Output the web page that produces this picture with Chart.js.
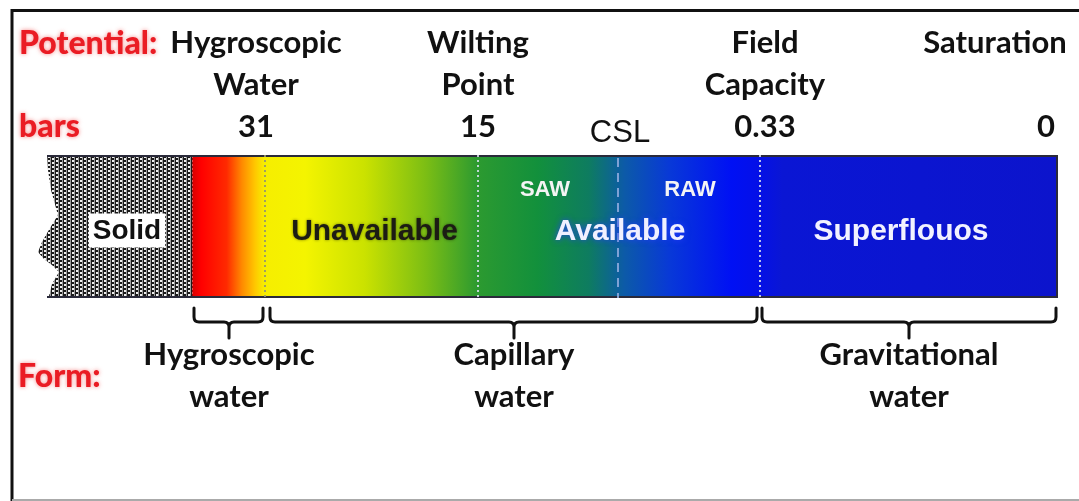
<!DOCTYPE html>
<html>
<head>
<meta charset="utf-8">
<script src="https://cdn.jsdelivr.net/npm/chart.js@4.4.0/dist/chart.umd.min.js"></script>
<style>
html, body { margin: 0; padding: 0; background: #fff; }
#wrap { position: relative; width: 1079px; height: 501px; }
</style>
</head>
<body>
<div id="wrap"><canvas id="myChart"></canvas></div>
<script>
// segments of the soil-water bar, widths (relative units)
const segments = ['Solid', 'Hygroscopic', 'Unavailable', 'SAW', 'RAW', 'Superflouos'];
const segmentWidths = [154, 73, 213, 140, 142, 298];

// potential scale above the bar
const potentialNames = [['Hygroscopic', 'Water'], ['Wilting', 'Point'], ['Field', 'Capacity'], ['Saturation']];
const potentialBars = ['31', '15', '0.33', '0'];

// forms of water below the bar (first..last segment index covered)
const formNames = [['Hygroscopic', 'water'], ['Capillary', 'water'], ['Gravitational', 'water']];
const formFrom = [1, 2, 5];
const formTo = [1, 4, 5];

const total = segmentWidths.reduce((a, b) => a + b, 0);
const boundaries = [0];
segmentWidths.forEach(w => boundaries.push(boundaries[boundaries.length - 1] + w));

const LABEL_FONT = 'Lato, "Open Sans", sans-serif';
const BAR_FONT = '"Liberation Sans", Arial, sans-serif';

let gradCache = null;
function barGradient(chart) {
    const area = chart.chartArea;
    if (!area) return '#0010e0';
    if (gradCache && gradCache.w === area.width) return gradCache.g;
    const g = chart.ctx.createLinearGradient(area.left, 0, area.right, 0);
    const stops = [
        [0.150, '#d40000'], [0.160, '#ff0000'], [0.185, '#ff2a00'], [0.200, '#ff8a00'],
        [0.213, '#ffc800'], [0.222, '#f6ee00'], [0.262, '#f4f400'], [0.320, '#cbe200'],
        [0.380, '#7cbe14'], [0.431, '#2c9a30'], [0.490, '#12903c'], [0.540, '#0e7c60'],
        [0.575, '#0c5aa8'], [0.620, '#0838d8'], [0.680, '#0010f4'], [0.705, '#0410e8'],
        [0.730, '#0a16d4'], [1.000, '#0c14cc']
    ];
    stops.forEach(s => g.addColorStop(s[0], s[1]));
    gradCache = { w: area.width, g: g };
    return g;
}

let patternCache = null;
function solidPattern(chart) {
    if (patternCache) return patternCache;
    const c = document.createElement('canvas');
    c.width = 8; c.height = 4;
    const x = c.getContext('2d');
    x.fillStyle = '#1a1a1a';
    x.fillRect(0, 0, 8, 4);
    x.fillStyle = '#f0f0f0';
    x.fillRect(0, 0, 2, 2);
    x.fillRect(4, 2, 2, 2);
    x.fillStyle = '#9a9a9a';
    x.fillRect(2, 0, 1, 4);
    x.fillRect(6, 0, 1, 4);
    patternCache = chart.ctx.createPattern(c, 'repeat');
    return patternCache;
}

function brace(ctx, x1, x2, xm, y) {
    ctx.beginPath();
    ctx.moveTo(x1, y - 14);
    ctx.lineTo(x1, y - 5);
    ctx.quadraticCurveTo(x1, y, x1 + 5, y);
    ctx.lineTo(xm - 5, y);
    ctx.quadraticCurveTo(xm, y, xm, y + 5);
    ctx.lineTo(xm, y + 16);
    ctx.moveTo(xm, y + 5);
    ctx.quadraticCurveTo(xm, y, xm + 5, y);
    ctx.lineTo(x2 - 5, y);
    ctx.quadraticCurveTo(x2, y, x2, y - 5);
    ctx.lineTo(x2, y - 14);
    ctx.stroke();
}

function text(ctx, str, x, y, font, color, align) {
    ctx.font = font;
    ctx.fillStyle = color;
    ctx.textAlign = align || 'center';
    ctx.textBaseline = 'middle';
    ctx.fillText(str, x, y);
}

const diagramPlugin = {
    id: 'diagram',
    beforeDraw(chart) {
        const ctx = chart.ctx;
        ctx.save();
        ctx.fillStyle = '#fff';
        ctx.fillRect(0, 0, chart.width, chart.height);
        // frame
        ctx.strokeStyle = '#111';
        ctx.lineWidth = 3;
        ctx.beginPath();
        ctx.moveTo(12, 501);
        ctx.lineTo(12, 10.5);
        ctx.lineTo(1079, 10.5);
        ctx.stroke();
        ctx.strokeStyle = '#aaa';
        ctx.lineWidth = 2;
        ctx.beginPath();
        ctx.moveTo(12, 500);
        ctx.lineTo(1079, 500);
        ctx.stroke();
        ctx.restore();
    },
    afterDatasetsDraw(chart) {
        const ctx = chart.ctx;
        const area = chart.chartArea;
        const xs = chart.scales.x;
        const bx = i => xs.getPixelForValue(boundaries[i]);
        ctx.save();

        // jagged broken edge of the solid part
        ctx.fillStyle = '#fff';
        ctx.beginPath();
        ctx.moveTo(area.left - 2, area.top - 2);
        [[47, 153], [48, 170], [51, 190], [56, 208], [58, 215], [50, 228], [42, 242], [38, 252],
         [44, 259], [52, 265], [59, 272], [52, 284], [48, 300]].forEach(p => ctx.lineTo(p[0], p[1]));
        ctx.lineTo(area.left - 2, area.bottom + 2);
        ctx.closePath();
        ctx.fill();

        // dark rim of the bar
        ctx.strokeStyle = '#2a2a3a';
        ctx.lineWidth = 2;
        ctx.beginPath();
        ctx.moveTo(47, area.top + 1);
        ctx.lineTo(area.right - 1, area.top + 1);
        ctx.lineTo(area.right - 1, area.bottom - 1);
        ctx.lineTo(47, area.bottom - 1);
        ctx.stroke();

        // dividers
        [2, 3, 5].forEach(i => {
            ctx.strokeStyle = i === 2 ? 'rgba(150,150,110,0.9)' : 'rgba(220,225,240,0.85)';
            ctx.lineWidth = 2;
            ctx.setLineDash([2, 3]);
            ctx.beginPath();
            ctx.moveTo(bx(i), area.top);
            ctx.lineTo(bx(i), area.bottom);
            ctx.stroke();
        });
        ctx.strokeStyle = 'rgba(140,170,220,0.9)';
        ctx.lineWidth = 2;
        ctx.setLineDash([9, 6]);
        ctx.beginPath();
        ctx.moveTo(bx(4), area.top + 3);
        ctx.lineTo(bx(4), area.bottom);
        ctx.stroke();
        ctx.setLineDash([]);

        // labels inside the bar
        const midY = (area.top + area.bottom) / 2 + 5;
        ctx.font = 'bold 28px ' + BAR_FONT;
        const sw = ctx.measureText(segments[0]).width;
        const sx = (bx(0) + bx(1)) / 2 + 12;
        ctx.fillStyle = '#fff';
        ctx.fillRect(sx - sw / 2 - 4, midY - 18, sw + 8, 34);
        text(ctx, segments[0], sx, midY, 'bold 28px ' + BAR_FONT, '#111');

        ctx.shadowColor = 'rgba(0,0,0,0.5)';
        ctx.shadowBlur = 3;
        text(ctx, 'Unavailable', (bx(2) + bx(3)) / 2 + 3, midY, 'bold 30px ' + BAR_FONT, '#1c1c14');
        ctx.shadowColor = 'rgba(40,60,255,0.9)';
        ctx.shadowBlur = 6;
        text(ctx, 'Available', bx(4) + 2, midY, 'bold 30px ' + BAR_FONT, '#f0f0ff');
        ctx.shadowColor = 'rgba(0,0,0,0)';
        ctx.shadowBlur = 0;
        text(ctx, segments[3], (bx(3) + bx(4)) / 2 - 3, area.top + 35, 'bold 22px ' + BAR_FONT, '#f4f4f4');
        text(ctx, segments[4], (bx(4) + bx(5)) / 2 + 1, area.top + 35, 'bold 22px ' + BAR_FONT, '#f4f4f4');
        text(ctx, segments[5], (bx(5) + bx(6)) / 2 - 8, midY, 'bold 30px ' + BAR_FONT, '#f2f2ff');

        // CSL marker
        text(ctx, 'CSL', bx(4) + 2, 133, '31px ' + BAR_FONT, '#111');

        // red row titles
        ctx.shadowColor = 'rgba(240,60,60,0.6)';
        ctx.shadowBlur = 4;
        const red = '#ea1c24';
        const redFont = '900 32px ' + LABEL_FONT;
        text(ctx, 'Potential:', 19, 44, redFont, red, 'left');
        text(ctx, 'bars', 19, 127, redFont, red, 'left');
        text(ctx, 'Form:', 18, 377, redFont, red, 'left');
        ctx.shadowBlur = 0;
        ctx.shadowColor = 'rgba(0,0,0,0)';

        // potential labels above the bar
        const potX = [bx(2) - 9, bx(3), bx(5) + 5, bx(6) - 63];
        const barX = [bx(2) - 9, bx(3), bx(5) + 5, bx(6) - 12];
        const lbl = 'bold 31px ' + LABEL_FONT;
        potentialNames.forEach((lines, k) => {
            lines.forEach((ln, j) => text(ctx, ln, potX[k], 43 + j * 42, lbl, '#111'));
            text(ctx, potentialBars[k], barX[k], 127, lbl, '#111');
        });

        // braces and forms below the bar
        ctx.strokeStyle = '#111';
        ctx.lineWidth = 3;
        ctx.lineCap = 'round';
        formNames.forEach((lines, k) => {
            const x1 = bx(formFrom[k]) + (k === 1 ? 5 : 2);
            const x2 = bx(formTo[k] + 1) - (k === 1 ? 3 : 2);
            const xm = Math.round((x1 + x2) / 2);
            brace(ctx, x1, x2, xm, 322);
            lines.forEach((ln, j) => text(ctx, ln, xm, 355 + j * 42, lbl, '#111'));
        });

        ctx.restore();
    }
};

const ctx = document.getElementById('myChart').getContext('2d');
const myChart = new Chart(ctx, {
    type: 'bar',
    data: {
        labels: ['soil water'],
        datasets: segments.map((name, i) => ({
            label: name,
            data: [segmentWidths[i]],
            backgroundColor: i === 0
                ? (c) => solidPattern(c.chart)
                : (c) => barGradient(c.chart),
            borderWidth: 0,
            barPercentage: 1,
            categoryPercentage: 1
        }))
    },
    options: {
        indexAxis: 'y',
        animation: false,
        responsive: true,
        maintainAspectRatio: false,
        layout: { padding: { left: 38, right: 21, top: 155, bottom: 203 } },
        plugins: {
            legend: { display: false },
            tooltip: { enabled: false },
            title: { display: false }
        },
        scales: {
            x: { stacked: true, min: 0, max: total, display: false },
            y: { stacked: true, display: false }
        }
    },
    plugins: [diagramPlugin]
});
</script>
</body>
</html>
